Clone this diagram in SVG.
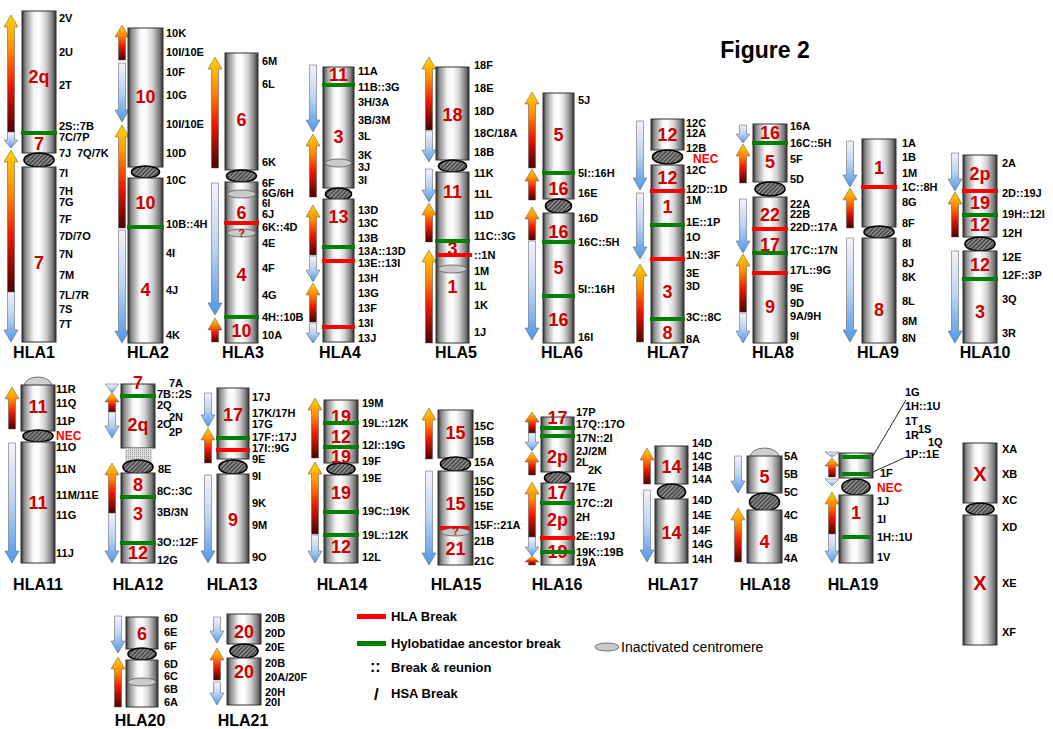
<svg xmlns="http://www.w3.org/2000/svg" width="1053" height="729" viewBox="0 0 1053 729">
<defs>
<linearGradient id="body" x1="0" y1="0" x2="1" y2="0">
<stop offset="0" stop-color="#2e2e2e"/><stop offset="0.1" stop-color="#8c8c8c"/><stop offset="0.35" stop-color="#f6f6f6"/><stop offset="0.5" stop-color="#ffffff"/><stop offset="0.7" stop-color="#d2d2d2"/><stop offset="0.9" stop-color="#7a7a7a"/><stop offset="1" stop-color="#2e2e2e"/>
</linearGradient>
<linearGradient id="up" x1="0" y1="0" x2="0" y2="1">
<stop offset="0" stop-color="#ffd400"/><stop offset="0.3" stop-color="#ff8a00"/><stop offset="0.6" stop-color="#ee1a00"/><stop offset="1" stop-color="#4a0000"/>
</linearGradient>
<linearGradient id="dn" x1="0" y1="0" x2="0" y2="1">
<stop offset="0" stop-color="#f6f0fb"/><stop offset="0.5" stop-color="#b9d3f2"/><stop offset="1" stop-color="#4f97ea"/>
</linearGradient>
<pattern id="hatch" width="3" height="3" patternUnits="userSpaceOnUse" patternTransform="rotate(45)">
<rect width="3" height="3" fill="#4a4a4a"/><rect width="1.1" height="3" fill="#a0a0a0"/>
</pattern>
<pattern id="dots" width="2" height="2" patternUnits="userSpaceOnUse">
<rect width="2" height="2" fill="#dcdcdc"/><rect width="1" height="1" fill="#9a9a9a"/>
</pattern>
<style>
.b{fill:url(#body);stroke:#333;stroke-width:1}
.c{fill:url(#hatch);stroke:#000;stroke-width:1.6}
.r{stroke:#ff0000;stroke-width:4}
.g{stroke:#008000;stroke-width:4}
.ic{fill:#cacaca;stroke:#555;stroke-width:0.8}
.cap{fill:#cfcfcf;stroke:#555;stroke-width:0.8}
.u{fill:url(#up);stroke:#555;stroke-width:0.5}
.d{fill:url(#dn);stroke:#555;stroke-width:0.5}
text{font-family:"Liberation Sans",Arial,sans-serif;font-weight:bold}
.n{font-size:18px;fill:#cc0000;text-anchor:middle}
.q{font-size:11px;fill:#cc0000;text-anchor:middle}
.l{font-size:11px;fill:#000}
.nec{font-size:12px;fill:#ff0000}
.t{font-size:16px;fill:#000;text-anchor:middle}
.lg{font-size:13px;fill:#000}
</style>
</defs>
<rect width="1053" height="729" fill="#fff"/>
<text x="765" y="58" style="font-size:23px" text-anchor="middle">Figure 2</text>

<g id="HLA1">
<path class="u" d="M11 15 l7 12 h-3.5 V132 h-7 V27 h-3.5z"/>
<path class="d" d="M7.5 132 h7 V140 h3.5 l-7 8 l-7 -8 h3.5z"/>
<path class="u" d="M11 150 l7 12 h-3.5 V292 h-7 V162 h-3.5z"/>
<path class="d" d="M7.5 292 h7 V330 h3.5 l-7 12 l-7 -12 h3.5z"/>
<rect class="b" x="22" y="11" width="34" height="142"/>
<ellipse class="c" cx="39" cy="160" rx="15" ry="7"/>
<rect class="b" x="22" y="167" width="34" height="175"/>
<text class="n" x="39" y="83">2q</text><text class="n" x="39" y="150">7</text><text class="n" x="39" y="269">7</text>
<line class="g" x1="21" y1="133" x2="57" y2="133"/>
<g class="l"><text x="59" y="22">2V</text><text x="59" y="56">2U</text><text x="59" y="89">2T</text><text x="59" y="130">2S::7B</text><text x="59" y="141">7C/7P</text><text x="59" y="157">7J</text><text x="77" y="157">7Q/7K</text><text x="59" y="177">7I</text><text x="59" y="195">7H</text><text x="59" y="206">7G</text><text x="59" y="223">7F</text><text x="59" y="240">7D/7O</text><text x="59" y="258">7N</text><text x="59" y="279">7M</text><text x="59" y="299">7L/7R</text><text x="59" y="313">7S</text><text x="59" y="328">7T</text></g>
<text class="t" x="34" y="358">HLA1</text>
</g>

<g id="HLA2">
<path class="u" d="M122 25 l7 12 h-3.5 V60 h-7 V37 h-3.5z"/>
<path class="d" d="M118.5 63 h7 V110 h3.5 l-7 12 l-7 -12 h3.5z"/>
<path class="u" d="M122 125 l7 12 h-3.5 V228 h-7 V137 h-3.5z"/>
<path class="d" d="M118.5 230 h7 V331 h3.5 l-7 12 l-7 -12 h3.5z"/>
<rect class="b" x="128" y="28" width="35" height="139"/>
<ellipse class="c" cx="145.5" cy="172" rx="14" ry="6"/>
<rect class="b" x="128" y="178" width="35" height="165"/>
<text class="n" x="145.5" y="103">10</text><text class="n" x="145.5" y="209">10</text><text class="n" x="145.5" y="296">4</text>
<line class="g" x1="127" y1="227" x2="164" y2="227"/>
<g class="l"><text x="166" y="37">10K</text><text x="166" y="56">10I/10E</text><text x="166" y="76">10F</text><text x="166" y="99">10G</text><text x="166" y="128">10I/10E</text><text x="166" y="157">10D</text><text x="166" y="184">10C</text><text x="166" y="228">10B::4H</text><text x="166" y="257">4I</text><text x="166" y="294">4J</text><text x="166" y="339">4K</text></g>
<text class="t" x="148" y="358">HLA2</text>
</g>

<g id="HLA3">
<path class="u" d="M215 57 l7 12 h-3.5 V168 h-7 V69 h-3.5z"/>
<path class="d" d="M211.5 183 h7 V303 h3.5 l-7 12 l-7 -12 h3.5z"/>
<path class="u" d="M215 318 l7 12 h-3.5 V342 h-7 V330 h-3.5z"/>
<rect class="b" x="225" y="53" width="33" height="117"/>
<ellipse class="c" cx="241.5" cy="176" rx="15" ry="6"/>
<rect class="b" x="225" y="182" width="33" height="161"/>
<ellipse class="ic" cx="241.5" cy="194" rx="14" ry="4"/>
<text class="n" x="241.5" y="126">6</text><text class="n" x="241.5" y="219">6</text><text class="n" x="241.5" y="281">4</text><text class="n" x="241.5" y="337">10</text>
<line class="r" x1="224" y1="223" x2="259" y2="223"/>
<ellipse class="ic" cx="241.5" cy="233" rx="14" ry="4"/>
<text class="q" x="241.5" y="237">?</text>
<line class="g" x1="224" y1="317" x2="259" y2="317"/>
<g class="l"><text x="262" y="65">6M</text><text x="262" y="88">6L</text><text x="262" y="166">6K</text><text x="262" y="187">6F</text><text x="262" y="197">6G/6H</text><text x="262" y="207" style="font-size:10px">6I</text><text x="262" y="218">6J</text><text x="262" y="231">6K::4D</text><text x="262" y="247">4E</text><text x="262" y="272">4F</text><text x="262" y="299">4G</text><text x="262" y="321">4H::10B</text><text x="262" y="339">10A</text></g>
<text class="t" x="243" y="358">HLA3</text>
</g>

<g id="HLA4">
<path class="d" d="M309.5 65 h7 V120 h3.5 l-7 12 l-7 -12 h3.5z"/>
<path class="u" d="M313 134 l7 12 h-3.5 V197 h-7 V146 h-3.5z"/>
<path class="u" d="M313 205 l7 12 h-3.5 V255 h-7 V217 h-3.5z"/>
<path class="d" d="M309.5 256 h7 V270 h3.5 l-7 12 l-7 -12 h3.5z"/>
<path class="u" d="M313 283 l7 12 h-3.5 V322 h-7 V295 h-3.5z"/>
<path class="d" d="M309.5 323 h7 V333 h3.5 l-7 10 l-7 -10 h3.5z"/>
<rect class="b" x="323" y="67" width="31" height="121"/>
<ellipse class="c" cx="338.5" cy="194" rx="13" ry="6"/>
<rect class="b" x="323" y="199" width="31" height="143"/>
<ellipse class="ic" cx="338.5" cy="163" rx="13" ry="4"/>
<text class="n" x="338.5" y="81">11</text><text class="n" x="338.5" y="143">3</text><text class="n" x="338.5" y="223">13</text>
<line class="g" x1="322" y1="85" x2="355" y2="85"/><line class="g" x1="322" y1="247" x2="355" y2="247"/>
<line class="r" x1="322" y1="261" x2="355" y2="261"/><line class="r" x1="322" y1="327" x2="355" y2="327"/>
<g class="l"><text x="358" y="75">11A</text><text x="358" y="91">11B::3G</text><text x="358" y="106">3H/3A</text><text x="358" y="124">3B/3M</text><text x="358" y="140">3L</text><text x="358" y="159">3K</text><text x="358" y="171">3J</text><text x="358" y="184">3I</text><text x="358" y="214">13D</text><text x="358" y="227">13C</text><text x="358" y="242">13B</text><text x="358" y="255">13A::13D</text><text x="358" y="267">13E::13I</text><text x="358" y="282">13H</text><text x="358" y="297">13G</text><text x="358" y="312">13F</text><text x="358" y="327">13I</text><text x="358" y="342">13J</text></g>
<text class="t" x="340" y="358">HLA4</text>
</g>

<g id="HLA5">
<path class="u" d="M429 57 l7 12 h-3.5 V130 h-7 V69 h-3.5z"/>
<path class="d" d="M425.5 131 h7 V150 h3.5 l-7 12 l-7 -12 h3.5z"/>
<path class="d" d="M425.5 169 h7 V190 h3.5 l-7 12 l-7 -12 h3.5z"/>
<path class="u" d="M429 203 l7 12 h-3.5 V242 h-7 V215 h-3.5z"/>
<path class="u" d="M429 250 l7 12 h-3.5 V343 h-7 V262 h-3.5z"/>
<rect class="b" x="436" y="67" width="33" height="93"/>
<ellipse class="c" cx="452.5" cy="166" rx="14" ry="6"/>
<rect class="b" x="436" y="172" width="33" height="171"/>
<ellipse class="ic" cx="452.5" cy="269" rx="14" ry="4"/>
<text class="n" x="452.5" y="121">18</text><text class="n" x="452.5" y="198">11</text><text class="n" x="452.5" y="255">3</text><text class="n" x="452.5" y="293">1</text>
<line class="g" x1="435" y1="241" x2="470" y2="241"/><line class="r" x1="437" y1="255" x2="472" y2="255"/>
<g class="l"><text x="474" y="69">18F</text><text x="474" y="92">18E</text><text x="474" y="115">18D</text><text x="474" y="137">18C/18A</text><text x="474" y="156">18B</text><text x="474" y="177">11K</text><text x="474" y="198">11L</text><text x="474" y="219">11D</text><text x="474" y="240">11C::3G</text><text x="474" y="259">::1N</text><text x="474" y="275">1M</text><text x="474" y="290">1L</text><text x="474" y="309">1K</text><text x="474" y="336">1J</text></g>
<text class="t" x="456" y="358">HLA5</text>
</g>

<g id="HLA6">
<path class="u" d="M532 92 l7 12 h-3.5 V168 h-7 V104 h-3.5z"/>
<path class="u" d="M532 169 l7 12 h-3.5 V200 h-7 V181 h-3.5z"/>
<path class="u" d="M532 207 l7 12 h-3.5 V240 h-7 V219 h-3.5z"/>
<path class="d" d="M528.5 241 h7 V328 h3.5 l-7 12 l-7 -12 h3.5z"/>
<rect class="b" x="543" y="93" width="31" height="106"/>
<ellipse class="c" cx="558.5" cy="206" rx="13" ry="7"/>
<rect class="b" x="543" y="213" width="31" height="130"/>
<text class="n" x="558.5" y="141">5</text><text class="n" x="558.5" y="195">16</text><text class="n" x="558.5" y="238">16</text><text class="n" x="558.5" y="274">5</text><text class="n" x="558.5" y="326">16</text>
<line class="g" x1="542" y1="173" x2="575" y2="173"/><line class="g" x1="542" y1="242" x2="575" y2="242"/><line class="g" x1="542" y1="296" x2="575" y2="296"/>
<g class="l"><text x="578" y="104">5J</text><text x="578" y="177">5I::16H</text><text x="578" y="197">16E</text><text x="578" y="222">16D</text><text x="578" y="246">16C::5H</text><text x="578" y="293">5I::16H</text><text x="578" y="341">16I</text></g>
<text class="t" x="562" y="358">HLA6</text>
</g>

<g id="HLA7">
<path class="d" d="M636.5 121 h7 V178 h3.5 l-7 12 l-7 -12 h3.5z"/>
<path class="d" d="M636.5 193 h7 V247 h3.5 l-7 12 l-7 -12 h3.5z"/>
<path class="u" d="M640 264 l7 12 h-3.5 V342 h-7 V276 h-3.5z"/>
<rect class="b" x="651" y="119" width="33" height="31"/>
<ellipse class="c" cx="667.5" cy="157" rx="15" ry="7"/>
<rect class="b" x="651" y="165" width="33" height="178"/>
<text class="n" x="667.5" y="141">12</text><text class="n" x="667.5" y="184">12</text><text class="n" x="667.5" y="213">1</text><text class="n" x="667.5" y="298">3</text><text class="n" x="667.5" y="339">8</text>
<line class="r" x1="650" y1="191" x2="685" y2="191"/><line class="r" x1="650" y1="259" x2="685" y2="259"/>
<line class="g" x1="650" y1="225" x2="685" y2="225"/><line class="g" x1="650" y1="319" x2="685" y2="319"/>
<g class="l"><text x="686" y="127">12C</text><text x="686" y="137">12A</text><text x="686" y="152">12B</text><text x="686" y="174">12C</text><text x="686" y="193">12D::1D</text><text x="686" y="204">1M</text><text x="686" y="226">1E::1P</text><text x="686" y="241">1O</text><text x="686" y="259">1N::3F</text><text x="686" y="277">3E</text><text x="686" y="290">3D</text><text x="686" y="321">3C::8C</text><text x="686" y="343">8A</text></g>
<text class="nec" x="693" y="163">NEC</text>
<text class="t" x="668" y="358">HLA7</text>
</g>

<g id="HLA8">
<path class="d" d="M739.5 125 h7 V134 h3.5 l-7 9 l-7 -9 h3.5z"/>
<path class="u" d="M743 144 l7 12 h-3.5 V183 h-7 V156 h-3.5z"/>
<path class="d" d="M739.5 199 h7 V241 h3.5 l-7 12 l-7 -12 h3.5z"/>
<path class="u" d="M743 254 l7 12 h-3.5 V312 h-7 V266 h-3.5z"/>
<path class="d" d="M739.5 313 h7 V331 h3.5 l-7 12 l-7 -12 h3.5z"/>
<rect class="b" x="753" y="124" width="34" height="58"/>
<ellipse class="c" cx="770" cy="189" rx="15" ry="7"/>
<rect class="b" x="753" y="197" width="34" height="146"/>
<text class="n" x="770" y="139">16</text><text class="n" x="770" y="168">5</text><text class="n" x="770" y="221">22</text><text class="n" x="770" y="251">17</text><text class="n" x="770" y="313">9</text>
<line class="g" x1="752" y1="143" x2="788" y2="143"/><line class="g" x1="752" y1="253" x2="788" y2="253"/>
<line class="r" x1="752" y1="229" x2="788" y2="229"/><line class="r" x1="752" y1="273" x2="788" y2="273"/>
<g class="l"><text x="790" y="130">16A</text><text x="790" y="147">16C::5H</text><text x="790" y="163">5F</text><text x="790" y="183">5D</text><text x="790" y="208">22A</text><text x="790" y="218">22B</text><text x="790" y="231">22D::17A</text><text x="790" y="254">17C::17N</text><text x="790" y="274">17L::9G</text><text x="790" y="292">9E</text><text x="790" y="307">9D</text><text x="790" y="320">9A/9H</text><text x="790" y="340">9I</text></g>
<text class="t" x="773" y="358">HLA8</text>
</g>

<g id="HLA9">
<path class="d" d="M846.5 141 h7 V175 h3.5 l-7 12 l-7 -12 h3.5z"/>
<path class="u" d="M850 188 l7 12 h-3.5 V228 h-7 V200 h-3.5z"/>
<path class="d" d="M846.5 238 h7 V330 h3.5 l-7 12 l-7 -12 h3.5z"/>
<rect class="b" x="862" y="139" width="34" height="88"/>
<ellipse class="c" cx="879" cy="232" rx="15" ry="6"/>
<rect class="b" x="862" y="238" width="34" height="105"/>
<text class="n" x="879" y="174">1</text><text class="n" x="879" y="316">8</text>
<line class="r" x1="861" y1="187" x2="897" y2="187"/>
<g class="l"><text x="902" y="147">1A</text><text x="902" y="161">1B</text><text x="902" y="177">1M</text><text x="902" y="191">1C::8H</text><text x="902" y="206">8G</text><text x="902" y="227">8F</text><text x="902" y="247">8I</text><text x="902" y="267">8J</text><text x="902" y="281">8K</text><text x="902" y="305">8L</text><text x="902" y="325">8M</text><text x="902" y="342">8N</text></g>
<text class="t" x="878" y="358">HLA9</text>
</g>

<g id="HLA10">
<path class="d" d="M951.5 153 h7 V179 h3.5 l-7 12 l-7 -12 h3.5z"/>
<path class="u" d="M955 192 l7 12 h-3.5 V237 h-7 V204 h-3.5z"/>
<path class="d" d="M951.5 251 h7 V331 h3.5 l-7 12 l-7 -12 h3.5z"/>
<rect class="b" x="963" y="155" width="34" height="82"/>
<ellipse class="c" cx="980" cy="244" rx="15" ry="7"/>
<rect class="b" x="963" y="251" width="34" height="92"/>
<text class="n" x="980" y="180">2p</text><text class="n" x="980" y="209">19</text><text class="n" x="980" y="231">12</text><text class="n" x="980" y="271">12</text><text class="n" x="980" y="318">3</text>
<line class="r" x1="962" y1="191" x2="998" y2="191"/>
<line class="g" x1="962" y1="215" x2="998" y2="215"/><line class="g" x1="962" y1="279" x2="998" y2="279"/>
<g class="l"><text x="1002" y="167">2A</text><text x="1002" y="197">2D::19J</text><text x="1002" y="218">19H::12I</text><text x="1002" y="237">12H</text><text x="1002" y="261">12E</text><text x="1002" y="279">12F::3P</text><text x="1002" y="303">3Q</text><text x="1002" y="337">3R</text></g>
<text class="t" x="985" y="358">HLA10</text>
</g>

<g id="HLA11">
<path class="u" d="M12 387 l7 12 h-3.5 V429 h-7 V399 h-3.5z"/>
<path class="d" d="M8.5 443 h7 V551 h3.5 l-7 12 l-7 -12 h3.5z"/>
<path class="cap" d="M24 386 A14 9 0 0 1 52 386 z"/>
<rect class="b" x="21" y="385" width="34" height="46"/>
<ellipse class="c" cx="38" cy="436" rx="15" ry="6"/>
<rect class="b" x="21" y="442" width="34" height="121"/>
<text class="n" x="38" y="413">11</text><text class="n" x="38" y="509">11</text>
<g class="l"><text x="56" y="393">11R</text><text x="56" y="407">11Q</text><text x="56" y="425">11P</text><text x="56" y="451">11O</text><text x="56" y="473">11N</text><text x="56" y="499">11M/11E</text><text x="56" y="519">11G</text><text x="56" y="557">11J</text></g>
<text class="nec" x="56" y="440">NEC</text>
<text class="t" x="38" y="590">HLA11</text>
</g>

<g id="HLA12">
<path class="d" d="M105 384 h14 l-7 9z"/>
<path class="u" d="M112 393 l7 9 h-3.5 V412 h-7 V402 h-3.5z"/>
<path class="d" d="M108.5 412 h7 V426 h3.5 l-7 12 l-7 -12 h3.5z"/>
<path class="u" d="M112 463 l7 12 h-3.5 V513 h-7 V475 h-3.5z"/>
<path class="d" d="M108.5 513 h7 V551 h3.5 l-7 12 l-7 -12 h3.5z"/>
<rect class="b" x="121" y="384" width="34" height="64"/>
<rect x="125" y="448" width="27" height="16" fill="url(#dots)"/>
<ellipse class="c" cx="138" cy="467" rx="15" ry="7"/>
<rect class="b" x="121" y="473" width="34" height="90"/>
<text class="n" x="138" y="389">7</text><text class="n" x="138" y="431">2q</text><text class="n" x="138" y="491">8</text><text class="n" x="138" y="520">3</text><text class="n" x="138" y="559">12</text>
<line class="g" x1="120" y1="396" x2="156" y2="396"/><line class="g" x1="120" y1="497" x2="156" y2="497"/><line class="g" x1="120" y1="543" x2="156" y2="543"/>
<g class="l"><text x="169" y="387">7A</text><text x="157" y="398">7B::2S</text><text x="157" y="409">2Q</text><text x="169" y="421">2N</text><text x="157" y="428">2O</text><text x="169" y="436">2P</text><text x="158" y="473">8E</text><text x="157" y="495">8C::3C</text><text x="157" y="516">3B/3N</text><text x="157" y="546">3O::12F</text><text x="157" y="564">12G</text></g>
<text class="t" x="138" y="590">HLA12</text>
</g>

<g id="HLA13">
<path class="d" d="M204.5 393 h7 V415 h3.5 l-7 12 l-7 -12 h3.5z"/>
<path class="u" d="M208 428 l7 12 h-3.5 V463 h-7 V440 h-3.5z"/>
<path class="d" d="M204.5 475 h7 V551 h3.5 l-7 12 l-7 -12 h3.5z"/>
<rect class="b" x="217" y="388" width="32" height="71"/>
<ellipse class="c" cx="233" cy="467" rx="14" ry="7"/>
<rect class="b" x="217" y="474" width="32" height="89"/>
<text class="n" x="233" y="421">17</text><text class="n" x="233" y="526">9</text>
<line class="g" x1="216" y1="438" x2="250" y2="438"/><line class="r" x1="216" y1="450" x2="250" y2="450"/>
<g class="l"><text x="252" y="401">17J</text><text x="252" y="417">17K/17H</text><text x="252" y="428">17G</text><text x="252" y="441">17F::17J</text><text x="252" y="452">17I::9G</text><text x="252" y="463">9E</text><text x="252" y="480">9I</text><text x="252" y="507">9K</text><text x="252" y="529">9M</text><text x="252" y="561">9O</text></g>
<text class="t" x="232" y="590">HLA13</text>
</g>

<g id="HLA14">
<path class="u" d="M315 398 l7 12 h-3.5 V458 h-7 V410 h-3.5z"/>
<path class="u" d="M315 462 l7 12 h-3.5 V534 h-7 V474 h-3.5z"/>
<path class="d" d="M311.5 535 h7 V551 h3.5 l-7 12 l-7 -12 h3.5z"/>
<rect class="b" x="324" y="400" width="34" height="63"/>
<ellipse class="c" cx="341" cy="469" rx="14" ry="6"/>
<rect class="b" x="324" y="475" width="34" height="88"/>
<text class="n" x="341" y="423">19</text><text class="n" x="341" y="443">12</text><text class="n" x="341" y="463">19</text><text class="n" x="341" y="499">19</text><text class="n" x="341" y="553">12</text>
<line class="g" x1="323" y1="423" x2="359" y2="423"/><line class="g" x1="323" y1="447" x2="359" y2="447"/><line class="g" x1="323" y1="512" x2="359" y2="512"/><line class="g" x1="323" y1="535" x2="359" y2="535"/>
<g class="l"><text x="362" y="407">19M</text><text x="362" y="427">19L::12K</text><text x="362" y="449">12I::19G</text><text x="362" y="465">19F</text><text x="362" y="482">19E</text><text x="362" y="515">19C::19K</text><text x="362" y="539">19L::12K</text><text x="362" y="561">12L</text></g>
<text class="t" x="342" y="590">HLA14</text>
</g>

<g id="HLA15">
<path class="u" d="M429 408 l7 12 h-3.5 V459 h-7 V420 h-3.5z"/>
<path class="d" d="M425.5 471 h7 V553 h3.5 l-7 12 l-7 -12 h3.5z"/>
<rect class="b" x="438" y="410" width="35" height="48"/>
<ellipse class="c" cx="455.5" cy="464" rx="15" ry="7"/>
<rect class="b" x="438" y="471" width="35" height="94"/>
<text class="n" x="455.5" y="439">15</text><text class="n" x="455.5" y="510">15</text>
<line class="r" x1="439" y1="528" x2="470" y2="528"/>
<ellipse class="ic" cx="455.5" cy="532" rx="14" ry="4"/>
<text class="q" x="455.5" y="535">?</text>
<text class="n" x="455.5" y="555">21</text>
<g class="l"><text x="474" y="430">15C</text><text x="474" y="445">15B</text><text x="474" y="466">15A</text><text x="474" y="485">15C</text><text x="474" y="496">15D</text><text x="474" y="510">15E</text><text x="474" y="529">15F::21A</text><text x="474" y="545">21B</text><text x="474" y="565">21C</text></g>
<text class="t" x="456" y="590">HLA15</text>
</g>

<g id="HLA16">
<path class="u" d="M532 412 l7 10 h-3.5 V433 h-7 V422 h-3.5z"/>
<path class="d" d="M528.5 433 h7 V442 h3.5 l-7 9 l-7 -9 h3.5z"/>
<path class="u" d="M532 452 l7 10 h-3.5 V475 h-7 V462 h-3.5z"/>
<path class="u" d="M532 482 l7 12 h-3.5 V537 h-7 V494 h-3.5z"/>
<path class="d" d="M528.5 537 h7 V547 h3.5 l-7 9 l-7 -9 h3.5z"/>
<path class="u" d="M532 556 l7 6 h-3.5 V565 h-7 V562 h-3.5z"/>
<rect class="b" x="541" y="417" width="33" height="55"/>
<ellipse class="c" cx="557.5" cy="478" rx="13" ry="6"/>
<rect class="b" x="541" y="483" width="33" height="82"/>
<text class="n" x="557.5" y="424">17</text><text class="n" x="557.5" y="463">2p</text><text class="n" x="557.5" y="499">17</text><text class="n" x="557.5" y="526">2p</text><text class="n" x="557.5" y="558">19</text>
<line class="g" x1="540" y1="428" x2="575" y2="428"/><line class="g" x1="540" y1="436" x2="575" y2="436"/><line class="g" x1="540" y1="503" x2="575" y2="503"/><line class="g" x1="540" y1="552" x2="575" y2="552"/>
<line class="r" x1="540" y1="538" x2="575" y2="538"/>
<g class="l"><text x="576" y="416">17P</text><text x="576" y="428">17Q::17O</text><text x="576" y="442">17N::2I</text><text x="576" y="455">2J/2M</text><text x="576" y="466">2L</text><text x="588" y="474">2K</text><text x="576" y="491">17E</text><text x="576" y="507">17C::2I</text><text x="576" y="521">2H</text><text x="576" y="540">2E::19J</text><text x="576" y="556">19K::19B</text><text x="576" y="566">19A</text></g>
<text class="t" x="557" y="590">HLA16</text>
</g>

<g id="HLA17">
<path class="u" d="M647 448 l7 12 h-3.5 V484 h-7 V460 h-3.5z"/>
<path class="d" d="M643.5 490 h7 V550 h3.5 l-7 12 l-7 -12 h3.5z"/>
<rect class="b" x="655" y="446" width="33" height="38"/>
<ellipse class="c" cx="671.5" cy="492" rx="14" ry="8"/>
<rect class="b" x="655" y="499" width="33" height="64"/>
<text class="n" x="671.5" y="473">14</text><text class="n" x="671.5" y="539">14</text>
<g class="l"><text x="692" y="447">14D</text><text x="692" y="460">14C</text><text x="692" y="471">14B</text><text x="692" y="483">14A</text><text x="692" y="504">14D</text><text x="692" y="519">14E</text><text x="692" y="534">14F</text><text x="692" y="548">14G</text><text x="692" y="563">14H</text></g>
<text class="t" x="673" y="590">HLA17</text>
</g>

<g id="HLA18">
<path class="d" d="M734.5 456 h7 V481 h3.5 l-7 12 l-7 -12 h3.5z"/>
<path class="u" d="M738 508 l7 12 h-3.5 V562 h-7 V520 h-3.5z"/>
<path class="cap" d="M750 457 A14.5 9 0 0 1 779 457 z"/>
<rect class="b" x="747" y="456" width="35" height="37"/>
<ellipse class="c" cx="764.5" cy="502" rx="15" ry="9"/>
<rect class="b" x="747" y="510" width="35" height="53"/>
<text class="n" x="764.5" y="483">5</text><text class="n" x="764.5" y="548">4</text>
<g class="l"><text x="784" y="460">5A</text><text x="784" y="478">5B</text><text x="784" y="496">5C</text><text x="784" y="519">4C</text><text x="784" y="542">4B</text><text x="784" y="562">4A</text></g>
<text class="t" x="765" y="590">HLA18</text>
</g>

<g id="HLA19">
<path class="d" d="M825 452 h14 l-7 5z"/>
<path class="u" d="M832 458 l7 8 h-3.5 V477 h-7 V466 h-3.5z"/>
<path class="d" d="M825 479 h14 l-7 7z"/>
<path class="u" d="M832 492 l7 12 h-3.5 V534 h-7 V504 h-3.5z"/>
<path class="d" d="M828.5 534 h7 V551 h3.5 l-7 12 l-7 -12 h3.5z"/>
<rect class="b" x="839" y="453" width="34" height="25"/>
<ellipse class="c" cx="856" cy="487" rx="14" ry="8"/>
<rect class="b" x="839" y="495" width="34" height="68"/>
<text class="n" x="856" y="519">1</text>
<line class="g" x1="842" y1="457" x2="870" y2="457"/><line class="g" x1="842" y1="474" x2="870" y2="474"/><line class="g" x1="842" y1="537" x2="870" y2="537"/>
<g class="l"><text x="905" y="396">1G</text><text x="905" y="410">1H::1U</text><text x="905" y="425">1T</text><text x="918" y="433">1S</text><text x="905" y="439">1R</text><text x="928" y="446">1Q</text><text x="905" y="458">1P::1E</text><text x="880" y="477">1F</text><text x="877" y="505">1J</text><text x="877" y="523">1I</text><text x="877" y="541">1H::1U</text><text x="877" y="561">1V</text></g>
<text class="nec" x="877" y="492">NEC</text>
<text class="t" x="853" y="590">HLA19</text>
</g>

<g id="connectors" stroke="#111" stroke-width="0.9" fill="none">
<line x1="873" y1="456" x2="906" y2="400"/>
<line x1="873" y1="472" x2="906" y2="457"/>
</g>

<g id="X">
<rect class="b" x="963" y="443" width="34" height="60"/>
<ellipse class="c" cx="980" cy="509" rx="14" ry="6"/>
<rect class="b" x="963" y="515" width="34" height="130"/>
<text class="n" x="980" y="481" style="font-size:20px">X</text><text class="n" x="980" y="590" style="font-size:20px">X</text>
<g class="l"><text x="1002" y="453">XA</text><text x="1002" y="478">XB</text><text x="1002" y="504">XC</text><text x="1002" y="531">XD</text><text x="1002" y="587">XE</text><text x="1002" y="636">XF</text></g>
</g>

<g id="HLA20">
<path class="d" d="M114.5 616 h7 V641 h3.5 l-7 12 l-7 -12 h3.5z"/>
<path class="u" d="M118 657 l7 12 h-3.5 V707 h-7 V669 h-3.5z"/>
<rect class="b" x="126" y="617" width="32" height="32"/>
<ellipse class="c" cx="142" cy="654" rx="14" ry="6"/>
<rect class="b" x="126" y="660" width="32" height="47"/>
<ellipse class="ic" cx="142" cy="682" rx="14" ry="4"/>
<text class="n" x="142" y="640">6</text>
<g class="l"><text x="164" y="622">6D</text><text x="164" y="636">6E</text><text x="164" y="650">6F</text><text x="164" y="668">6D</text><text x="164" y="680">6C</text><text x="164" y="693">6B</text><text x="164" y="706">6A</text></g>
<text class="t" x="140" y="726">HLA20</text>
</g>

<g id="HLA21">
<path class="d" d="M213.5 617 h7 V631 h3.5 l-7 12 l-7 -12 h3.5z"/>
<path class="u" d="M217 648 l7 12 h-3.5 V680 h-7 V660 h-3.5z"/>
<path class="d" d="M213.5 682 h7 V693 h3.5 l-7 12 l-7 -12 h3.5z"/>
<rect class="b" x="227" y="614" width="34" height="30"/>
<ellipse class="c" cx="244" cy="651" rx="14" ry="7"/>
<rect class="b" x="227" y="658" width="34" height="47"/>
<text class="n" x="244" y="638">20</text><text class="n" x="244" y="678">20</text>
<g class="l"><text x="265" y="622">20B</text><text x="265" y="637">20D</text><text x="265" y="651">20E</text><text x="265" y="667">20B</text><text x="265" y="681">20A/20F</text><text x="265" y="696">20H</text><text x="265" y="706">20I</text></g>
<text class="t" x="243" y="726">HLA21</text>
</g>

<g id="legend">
<rect x="357" y="614" width="29" height="5" fill="#ff0000"/>
<text class="lg" x="391" y="621">HLA Break</text>
<rect x="357" y="641" width="29" height="5" fill="#008000"/>
<text class="lg" x="391" y="648">Hylobatidae ancestor break</text>
<text class="lg" x="370" y="672" style="font-size:16px">::</text>
<text class="lg" x="391" y="672">Break &amp; reunion</text>
<text class="lg" x="374" y="700" style="font-size:17px">/</text>
<text class="lg" x="391" y="698">HSA Break</text>
<ellipse class="ic" cx="607" cy="647" rx="12" ry="4"/>
<text x="621" y="652" style="font-size:14px;font-weight:normal">Inactivated centromere</text>
</g>
</svg>
